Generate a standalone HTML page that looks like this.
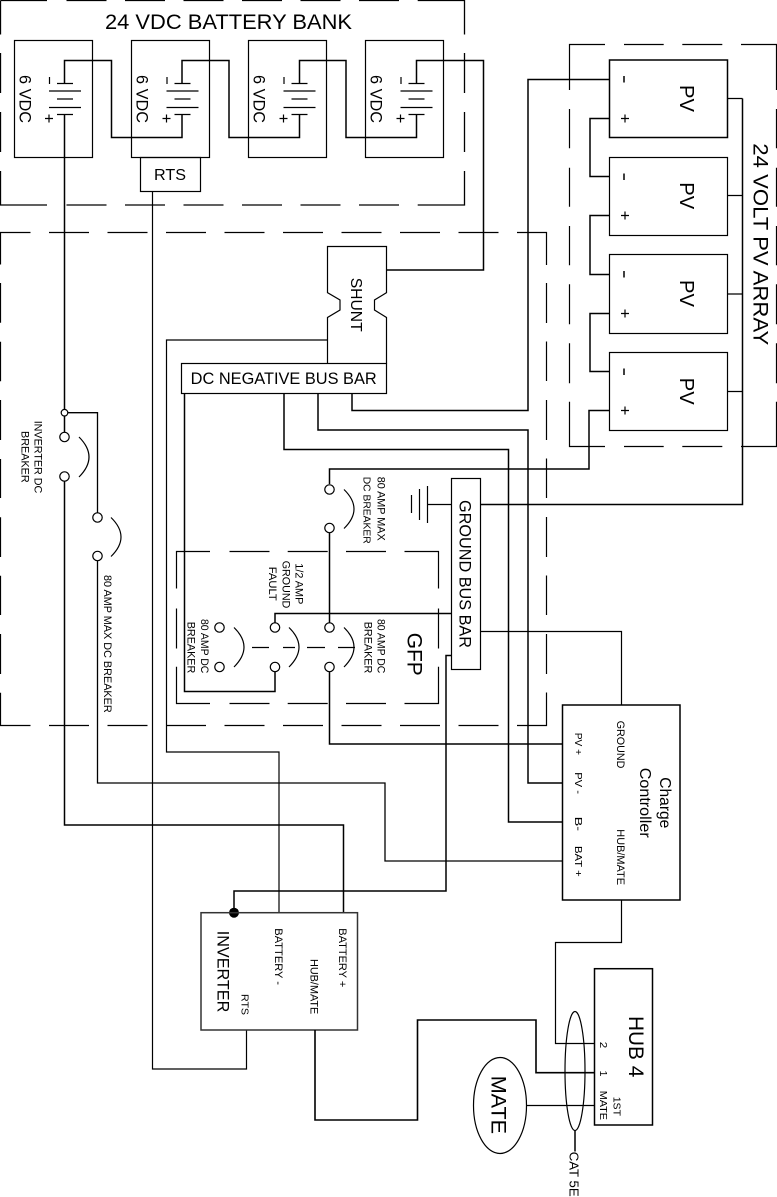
<!DOCTYPE html>
<html><head><meta charset="utf-8">
<style>
html,body{margin:0;padding:0;background:#fff}
svg{display:block}
.l{fill:none;stroke:#000;stroke-width:1.2}
.t{fill:none;stroke:#000;stroke-width:1.5}
text{font-family:"Liberation Sans",sans-serif;fill:#000}
</style></head><body>
<svg width="777" height="1197" viewBox="0 0 777 1197" xmlns="http://www.w3.org/2000/svg">
<!-- dashed frames -->
<path class="t" style="stroke-width:1.3" d="M0.5 0.5H47M66.5 0.5H106.5M125 0.5H165M183.5 0.5H223.5M242 0.5H282M300.5 0.5H340.5M359 0.5H399M417.7 0.5H464.5V34.5M464.5 53V93M464.5 112V152M464.5 171V205H417.7M399 205H359M340.5 205H300.5M282 205H242M223.5 205H183.5M165 205H125M106.5 205H66.5M47 205H0.5V171M0.5 152V112M0.5 93V53M0.5 34.5V0.5"/>
<path class="l" d="M0.5 264.5V232.5H30.5M49 232.5H89M107.5 232.5H147.5M166 232.5H206M224.5 232.5H264.5M283 232.5H323M341.5 232.5H381.5M400 232.5H440M458.5 232.5H498.5M517 232.5H546.5V265M546.5 283V323M546.5 341.5V381M546.5 400V440M546.5 458.5V498M546.5 517V557M546.5 575.5V615M546.5 634V674M546.5 692.5V725.5H517M498.5 725.5H458.5M440 725.5H400M381.5 725.5H341.5M323 725.5H283M264.5 725.5H224.5M206 725.5H166M147.5 725.5H107.5M89 725.5H49M30.5 725.5H0.5V692.7M0.5 674V634M0.5 615V575.7M0.5 557V517.3M0.5 498V459M0.5 440V400M0.5 381.3V341.7M0.5 322.7V283"/>
<path class="l" d="M176.5 588.5V551.5H210M229.5 551.5H269.5M287.7 551.5H327.7M346 551.5H386M404.5 551.5H438.5V588.5M438.5 608.5V648.5M438.5 666.7V703.5H404.5M386 703.5H346M327.7 703.5H287.7M269.5 703.5H229.5M210 703.5H176.5V666.7M176.5 648.5V608.5"/>
<path class="l" d="M569.5 90V44.5H605M624 44.5H663.7M682.3 44.5H722.3M741 44.5H776.5V90M776.5 109V148.3M776.5 167.7V206.7M776.5 226V265.3M776.5 284.3V324.3M776.5 343.3V383.3M776.5 401.7V446.5H741M722.3 446.5H682.3M663.7 446.5H624M605 446.5H569.5V401.7M569.5 383.3V343.3M569.5 324.3V284.3M569.5 265.3V226M569.5 206.7V167.7M569.5 148.3V109"/>
<path class="l" d="M252 647.5H269M283 647.5H295M307 647.5H325M338 647.5H355"/>

<!-- batteries -->
<rect class="l" x="14.5" y="40.5" width="78" height="117"/>
<rect class="l" x="131.5" y="40.5" width="78" height="117"/>
<rect class="l" x="248.5" y="40.5" width="78" height="117"/>
<rect class="l" x="365.5" y="40.5" width="78" height="117"/>
<path class="l" d="M57 83.5H73M49 91H81M57 99H73M49 107.5H81M57 114.5H73M49.5 77V84M45 118.5H53M49 114.5V122.5"/>
<path class="l" d="M174.5 83.5H190.5M166.5 91H198.5M174.5 99H190.5M166.5 107.5H198.5M174.5 114.5H190.5M167 77V84M162.5 118.5H170.5M166.5 114.5V122.5"/>
<path class="l" d="M291.5 83.5H307.5M283.5 91H315.5M291.5 99H307.5M283.5 107.5H315.5M291.5 114.5H307.5M284 77V84M279.5 118.5H287.5M283.5 114.5V122.5"/>
<path class="l" d="M408.5 83.5H424.5M400.5 91H432.5M408.5 99H424.5M400.5 107.5H432.5M408.5 114.5H424.5M401 77V84M396.5 118.5H404.5M400.5 114.5V122.5"/>
<path class="t" d="M64.5 83.5V60.5H111.5V137.5H182V114.5"/>
<path class="t" d="M182 83.5V60.5H229V137.5H299.5V114.5"/>
<path class="t" d="M299.5 83.5V60.5H346V137.5H416.5V114.5"/>
<path class="t" d="M416.5 83.5V60.5H483.5V270H386.5"/>
<rect class="l" x="140.5" y="157.5" width="60" height="34"/>

<!-- PV -->
<rect class="t" x="609.5" y="60" width="118" height="77.5"/>
<rect class="l" x="609.5" y="157.5" width="118" height="78"/>
<rect class="l" x="609.5" y="254.5" width="118" height="79"/>
<rect class="l" x="609.5" y="352.5" width="118" height="78"/>
<path class="t" d="M624 76V82.5M624 173.5V180M624 271V277.5M624 368.5V375"/>
<path class="l" d="M621 118.5H629M625 114.5V122.5M621 215.5H629M625 211.5V219.5M621 313.5H629M625 309.5V317.5M621 410.5H629M625 406.5V414.5"/>
<path class="t" d="M609.5 118.5H590V176.5H609.5M609.5 215.5H590V274.5H609.5M609.5 313.5H590V371.5H609.5"/>
<path class="l" d="M727.5 98.5H742.5M727.5 195.5H742.5M727.5 294H742.5M727.5 391.5H742.5"/>
<path class="t" d="M742.5 98.5V504.5H480.5"/>
<path class="t" d="M609.5 79.5H528V410.5H352V393.5"/>
<path class="t" d="M318 393.5V430H528V783H562.5"/>
<path class="t" d="M284 393.5V449.5H508.5V822H562.5"/>
<path class="t" d="M609.5 410.5H589V469H329.5V484"/>

<!-- shunt and bus -->
<path class="l" d="M327.5 363.5V317.5L340 310V300L327.5 292.7V246.5H386.5V292.7L374.5 300V310L386.5 317.5V363.5"/>
<rect class="l" x="181.5" y="363.5" width="205" height="30"/>
<path class="l" d="M327.5 340H166.5V752H279V912.5"/>
<path class="t" d="M184.5 393.5V691.5H275V672"/>

<!-- main wires -->
<path class="t" d="M64.5 114.5V409.5M64.5 416V432M64.5 481.5V825H343.5V912.5"/>
<path class="l" d="M152.5 191.5V1069H246.5V1030"/>
<path class="t" style="stroke-width:1.3" d="M67.5 412.7H97.5V512.5M97.5 561V783H385V861H562.5"/>
<circle class="l" cx="64.5" cy="412.7" r="3.3"/>
<circle class="l" cx="64.5" cy="437" r="4.7"/>
<circle class="l" cx="64.5" cy="476.5" r="4.7"/>
<path class="l" d="M79 437Q99 457 79 477M111 517.5Q131 537 111 556.5"/>
<circle class="l" cx="97.5" cy="517.5" r="4.7"/>
<circle class="l" cx="97.5" cy="556" r="4.7"/>

<!-- breakers -->
<circle class="l" cx="329.5" cy="489.5" r="4.7"/>
<circle class="l" cx="329.5" cy="528" r="4.7"/>
<circle class="l" cx="329.5" cy="627.5" r="4.7"/>
<circle class="l" cx="329.5" cy="667" r="4.7"/>
<circle class="l" cx="275" cy="627.5" r="4.7"/>
<circle class="l" cx="275" cy="667" r="4.7"/>
<circle class="l" cx="219.5" cy="627.5" r="4.7"/>
<circle class="l" cx="219.5" cy="667" r="4.7"/>
<path class="l" d="M344 489.5Q364 509 344 528.5M234 627.5Q254 647 234 667M289 627.5Q309 647 289 667M344 627.5Q364 647 344 667"/>
<path class="t" d="M329.5 533V622.5M275 622.5V613.5H451.5"/>
<path class="t" d="M329.5 672V744H562.5"/>

<!-- ground -->
<rect class="l" x="451.5" y="478.5" width="29" height="191"/>
<path class="l" d="M451.5 504.5H427.5M427.5 486V523M419.5 489V520M411.5 495V513"/>
<path class="l" d="M480.5 631.5H621.5V705"/>
<path class="t" d="M451.5 655.5H446V891H234V912.5"/>
<circle cx="234" cy="912.7" r="5" fill="#000"/>

<!-- charge controller -->
<rect class="t" x="562.5" y="705" width="117.5" height="195"/>
<path class="l" d="M621.5 900V942.5H555.5V1043.5H594.5"/>

<!-- inverter -->
<rect class="t" x="201" y="912.7" width="156.5" height="117.3" style="stroke:#333"/>

<!-- hub -->
<rect class="t" x="594.5" y="968.7" width="58" height="156.3"/>
<path class="t" d="M594.5 1072.7H536V1020H417.5V1120H315V1030" style="stroke-width:1.6"/>
<ellipse class="l" cx="500" cy="1105.5" rx="26.5" ry="48"/>
<path class="l" d="M526.5 1105.5H594.5"/>
<ellipse class="l" cx="575" cy="1071" rx="10" ry="59.5"/>
<path class="t" d="M575 1130.5V1151.5"/>

<!-- text -->
<text x="105" y="29" font-size="21.7" textLength="247" lengthAdjust="spacingAndGlyphs">24 VDC BATTERY BANK</text>
<text transform="translate(19.5,75) rotate(90)" font-size="16.5" textLength="48" lengthAdjust="spacingAndGlyphs">6 VDC</text>
<text transform="translate(136.5,75) rotate(90)" font-size="16.5" textLength="48" lengthAdjust="spacingAndGlyphs">6 VDC</text>
<text transform="translate(253.5,75) rotate(90)" font-size="16.5" textLength="48" lengthAdjust="spacingAndGlyphs">6 VDC</text>
<text transform="translate(370.5,75) rotate(90)" font-size="16.5" textLength="48" lengthAdjust="spacingAndGlyphs">6 VDC</text>
<text x="154" y="180" font-size="16" textLength="32" lengthAdjust="spacingAndGlyphs">RTS</text>
<text transform="translate(351,277.7) rotate(90)" font-size="15.7" textLength="54" lengthAdjust="spacingAndGlyphs">SHUNT</text>
<text x="190.7" y="384" font-size="16.2" textLength="186" lengthAdjust="spacingAndGlyphs">DC NEGATIVE BUS BAR</text>
<text transform="translate(753.3,143.3) rotate(90)" font-size="21.6" textLength="202" lengthAdjust="spacingAndGlyphs">24 VOLT PV ARRAY</text>
<text transform="translate(680,85) rotate(90)" font-size="20.2" textLength="27" lengthAdjust="spacingAndGlyphs">PV</text>
<text transform="translate(680,182.3) rotate(90)" font-size="20.2" textLength="27" lengthAdjust="spacingAndGlyphs">PV</text>
<text transform="translate(680,280) rotate(90)" font-size="20.2" textLength="27" lengthAdjust="spacingAndGlyphs">PV</text>
<text transform="translate(680,377.7) rotate(90)" font-size="20.2" textLength="27" lengthAdjust="spacingAndGlyphs">PV</text>
<text transform="translate(459.3,500) rotate(90)" font-size="16.2" textLength="148" lengthAdjust="spacingAndGlyphs">GROUND BUS BAR</text>
<text transform="translate(407.7,632.7) rotate(90)" font-size="21" textLength="43" lengthAdjust="spacingAndGlyphs">GFP</text>
<text transform="translate(377.7,476.7) rotate(90)" font-size="10.7" textLength="64" lengthAdjust="spacingAndGlyphs">80 AMP MAX</text>
<text transform="translate(363.7,476.7) rotate(90)" font-size="10.5" textLength="67" lengthAdjust="spacingAndGlyphs">DC BREAKER</text>
<text transform="translate(295.7,563.3) rotate(90)" font-size="10.8" textLength="41" lengthAdjust="spacingAndGlyphs">1/2 AMP</text>
<text transform="translate(282.3,560.7) rotate(90)" font-size="10.8" textLength="47.6" lengthAdjust="spacingAndGlyphs">GROUND</text>
<text transform="translate(269,566.7) rotate(90)" font-size="10.8" textLength="34" lengthAdjust="spacingAndGlyphs">FAULT</text>
<text transform="translate(201,619) rotate(90)" font-size="10.8" textLength="54.3" lengthAdjust="spacingAndGlyphs">80 AMP DC</text>
<text transform="translate(187.3,621.7) rotate(90)" font-size="10.8" textLength="51.6" lengthAdjust="spacingAndGlyphs">BREAKER</text>
<text transform="translate(377.7,619) rotate(90)" font-size="10.8" textLength="54.3" lengthAdjust="spacingAndGlyphs">80 AMP DC</text>
<text transform="translate(364.3,621.7) rotate(90)" font-size="10.8" textLength="51.6" lengthAdjust="spacingAndGlyphs">BREAKER</text>
<text transform="translate(34.3,420.7) rotate(90)" font-size="11" textLength="72.6" lengthAdjust="spacingAndGlyphs">INVERTER DC</text>
<text transform="translate(21.7,431) rotate(90)" font-size="11" textLength="51.7" lengthAdjust="spacingAndGlyphs">BREAKER</text>
<text transform="translate(104,575) rotate(90)" font-size="10.6" textLength="137.7" lengthAdjust="spacingAndGlyphs">80 AMP MAX DC BREAKER</text>
<text transform="translate(660,777.3) rotate(90)" font-size="15.6" textLength="51" lengthAdjust="spacingAndGlyphs">Charge</text>
<text transform="translate(640,767.7) rotate(90)" font-size="16" textLength="70" lengthAdjust="spacingAndGlyphs">Controller</text>
<text transform="translate(617,720.7) rotate(90)" font-size="10.7" textLength="47.6" lengthAdjust="spacingAndGlyphs">GROUND</text>
<text transform="translate(617,829.3) rotate(90)" font-size="10.8" textLength="55.7" lengthAdjust="spacingAndGlyphs">HUB/MATE</text>
<text transform="translate(575,732.7) rotate(90)" font-size="10.5" textLength="22.3" lengthAdjust="spacingAndGlyphs">PV +</text>
<text transform="translate(575,772.3) rotate(90)" font-size="10.5" textLength="21.7" lengthAdjust="spacingAndGlyphs">PV -</text>
<text transform="translate(575,816.7) rotate(90)" font-size="10.5" textLength="14.3" lengthAdjust="spacingAndGlyphs">B-</text>
<text transform="translate(575,846) rotate(90)" font-size="10.5" textLength="30.7" lengthAdjust="spacingAndGlyphs">BAT +</text>
<text transform="translate(217.7,930.7) rotate(90)" font-size="16.8" textLength="81.6" lengthAdjust="spacingAndGlyphs">INVERTER</text>
<text transform="translate(241.7,994) rotate(90)" font-size="10.5" textLength="21" lengthAdjust="spacingAndGlyphs">RTS</text>
<text transform="translate(275,928.3) rotate(90)" font-size="10.9" textLength="56.7" lengthAdjust="spacingAndGlyphs">BATTERY -</text>
<text transform="translate(339,928.3) rotate(90)" font-size="10.9" textLength="59" lengthAdjust="spacingAndGlyphs">BATTERY +</text>
<text transform="translate(310.7,959) rotate(90)" font-size="10.7" textLength="55.3" lengthAdjust="spacingAndGlyphs">HUB/MATE</text>
<text transform="translate(629,1016) rotate(90)" font-size="20.8" textLength="61.3" lengthAdjust="spacingAndGlyphs">HUB 4</text>
<text transform="translate(600,1041.7) rotate(90)" font-size="10.5" textLength="6.5" lengthAdjust="spacingAndGlyphs">2</text>
<text transform="translate(600,1070.5) rotate(90)" font-size="10.5" textLength="6" lengthAdjust="spacingAndGlyphs">1</text>
<text transform="translate(600,1090.7) rotate(90)" font-size="10.5" textLength="29.3" lengthAdjust="spacingAndGlyphs">MATE</text>
<text transform="translate(613.3,1096.7) rotate(90)" font-size="10.5" textLength="19.3" lengthAdjust="spacingAndGlyphs">1ST</text>
<text transform="translate(491.7,1075.7) rotate(90)" font-size="21" textLength="58.3" lengthAdjust="spacingAndGlyphs">MATE</text>
<text transform="translate(569.3,1151.7) rotate(90)" font-size="12.9" textLength="45" lengthAdjust="spacingAndGlyphs">CAT 5E</text>
</svg>
</body></html>
